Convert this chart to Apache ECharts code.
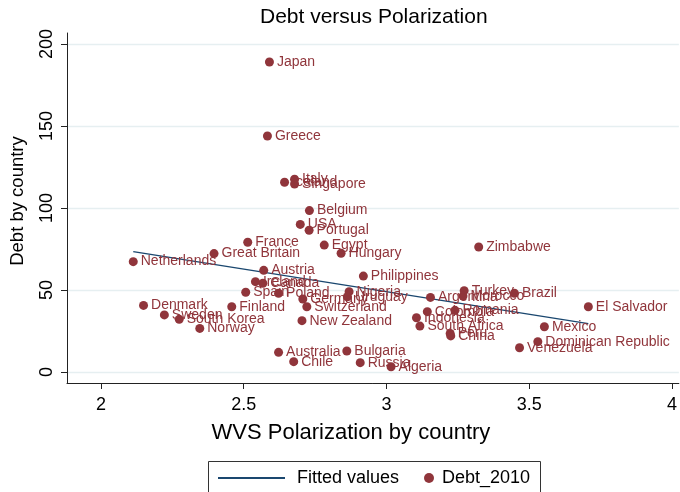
<!DOCTYPE html>
<html><head><meta charset="utf-8">
<script src="https://cdn.jsdelivr.net/npm/echarts@6/dist/echarts.min.js"></script>
</head><body style="margin:0;background:#fff">
<div id="c" style="width:680px;height:492px"></div>
<script>
const countries = ["Japan","Greece","Italy","Iceland","Singapore","Belgium","USA","Portugal","France","Egypt","Zimbabwe","Hungary","Great Britain","Netherlands","Austria","Philippines","Ireland","Canada","Turkey","Nigeria","Spain","Poland","Brazil","Morocco","Uruguay","Argentina","Germany","Denmark","Finland","Switzerland","El Salvador","Romania","Colombia","Sweden","Indonesia","South Korea","New Zealand","South Africa","Mexico","Norway","Peru","China","Dominican Republic","Venezuela","Bulgaria","Australia","Chile","Russia","Algeria"];
const polarization = [2.590,2.583,2.678,2.643,2.678,2.730,2.698,2.729,2.514,2.782,3.323,2.841,2.396,2.113,2.570,2.919,2.541,2.567,3.272,2.869,2.507,2.622,3.448,3.268,2.863,3.154,2.707,2.149,2.458,2.721,3.707,3.240,3.143,2.222,3.105,2.274,2.704,3.117,3.553,2.346,3.223,3.225,3.530,3.466,2.861,2.622,2.675,2.908,3.016];
const debt = [189.0,143.9,117.5,115.7,114.6,98.4,90.0,86.4,79.1,77.4,76.2,72.4,72.2,67.3,62.0,58.5,55.1,54.1,49.6,49.0,48.6,48.0,48.0,46.3,45.9,45.5,44.5,40.6,39.8,39.8,39.8,37.6,36.8,34.8,33.1,32.1,31.3,28.0,27.6,26.6,23.5,22.0,18.5,14.8,12.8,12.0,6.3,5.7,3.2];
const fitX = [2.113, 3.707];
const fitY = [73.4, 29.5];
const yTicks = [0, 50, 100, 150, 200];
const xTicks = [2, 2.5, 3, 3.5, 4];

const FONT = "'Liberation Sans', Arial, sans-serif";
const MAROON = '#90353b';
const NAVY = '#1a476f';

const scatterData = countries.map((n, i) => [polarization[i], debt[i], n]);
const fitData = fitX.map((x, i) => [x, fitY[i]]);

const chart = echarts.init(document.getElementById('c'), null, {renderer: 'canvas'});
chart.setOption({
  animation: false,
  backgroundColor: '#fff',
  textStyle: {fontFamily: FONT},
  title: {
    text: 'Debt versus Polarization',
    left: 255, top: 2,
    textStyle: {fontFamily: FONT, fontSize: 21, fontWeight: 'normal', color: '#000'}
  },
  grid: {left: 66, right: 0, top: 33, bottom: 109, containLabel: false},
  xAxis: {
    type: 'value', min: 1.881, max: 4.024,
    name: 'WVS Polarization by country', nameLocation: 'middle', nameGap: 39,
    nameTextStyle: {fontFamily: FONT, fontSize: 22, color: '#000', padding: [0, 44, 0, 0]},
    axisLine: {show: true, onZero: false, lineStyle: {color: '#222', width: 1}},
    axisTick: {show: true, length: 6, customValues: xTicks, lineStyle: {color: '#222'}},
    axisLabel: {customValues: xTicks, fontSize: 18, color: '#000', margin: 13, fontFamily: FONT},
    splitLine: {show: false}
  },
  yAxis: {
    type: 'value', min: -6.7, max: 206.7,
    name: 'Debt by country', nameLocation: 'middle', nameGap: 40,
    nameTextStyle: {fontFamily: FONT, fontSize: 18.5, color: '#000', padding: [0, 0, 0, 14]},
    axisLine: {show: true, onZero: false, lineStyle: {color: '#222', width: 1}},
    axisTick: {show: true, length: 6, customValues: yTicks, lineStyle: {color: '#222'}},
    axisLabel: {customValues: yTicks, fontSize: 18, color: '#000', rotate: 90, margin: 11, fontFamily: FONT},
    splitLine: {show: false}
  },
  legend: [
    {
      data: [{name: 'Fitted values', itemStyle: {opacity: 0}}], left: 212, top: 464, itemWidth: 67, itemHeight: 12,
      textStyle: {fontFamily: FONT, fontSize: 18, color: '#000', padding: [0, 0, 0, 7]},
      selectedMode: false
    },
    {
      data: [{name: 'Debt_2010', icon: 'circle'}], left: 419, top: 464, itemWidth: 10, itemHeight: 10,
      textStyle: {fontFamily: FONT, fontSize: 18, color: '#000', padding: [0, 0, 0, 3]},
      selectedMode: false
    }
  ],
  graphic: [{
    type: 'rect', shape: {x: 208.5, y: 461.5, width: 332, height: 45},
    style: {fill: 'none', stroke: '#333', lineWidth: 1}, silent: true, z: -1
  }],
  series: [
    {
      type: 'line', name: 'grid', data: [], silent: true, z: 0,
      markLine: {
        silent: true, symbol: 'none', label: {show: false}, z: 0,
        lineStyle: {color: '#e6eff1', width: 1.3, type: 'solid'},
        data: yTicks.map(v => ({yAxis: v}))
      }
    },
    {
      type: 'line', name: 'Fitted values', data: fitData, showSymbol: false, symbol: 'none',
      lineStyle: {color: NAVY, width: 1.5}, itemStyle: {color: NAVY}, z: 2
    },
    {
      type: 'scatter', name: 'Debt_2010', data: scatterData, symbol: 'circle', symbolSize: 9,
      itemStyle: {color: MAROON, opacity: 1}, z: 6,
      label: {
        show: true, position: 'right', distance: 3,
        formatter: p => p.data[2],
        color: MAROON, fontSize: 14, fontFamily: FONT
      },
      labelLayout: {hideOverlap: false}
    }
  ]
});
</script>
</body></html>
